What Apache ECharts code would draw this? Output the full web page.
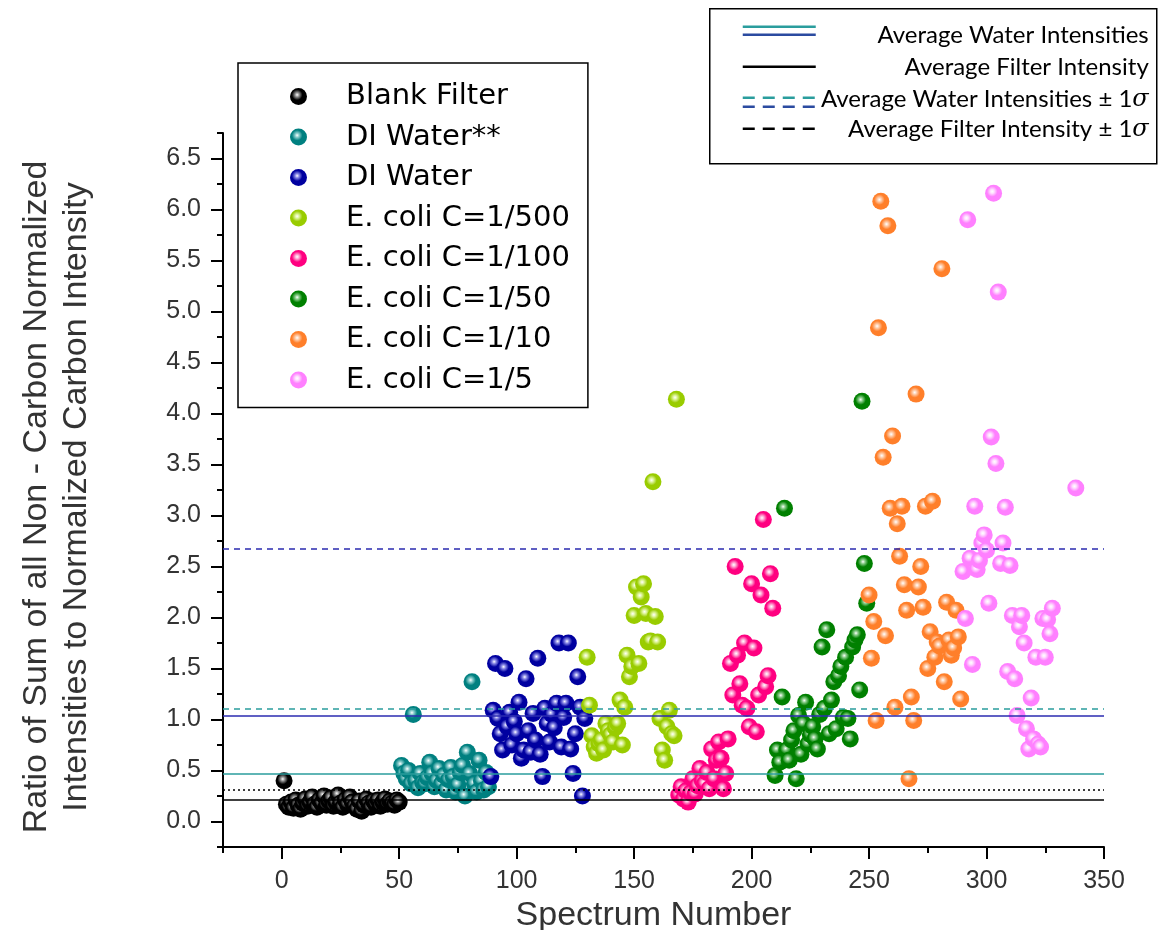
<!DOCTYPE html>
<html>
<head>
<meta charset="utf-8">
<script src="https://cdn.jsdelivr.net/npm/echarts@6/dist/echarts.min.js"></script>
<style>
  html, body { margin: 0; padding: 0; background: #fff; }
  #chart { width: 1158px; height: 930px; }
</style>
</head>
<body>
<div id="chart"></div>
<script>
// Series names (legend order)
const seriesNames = [
  'Blank Filter', 'DI Water**', 'DI Water', 'E. coli C=1/500',
  'E. coli C=1/100', 'E. coli C=1/50', 'E. coli C=1/10', 'E. coli C=1/5'
];

// [spectrum number, ratio]
const blankFilter = [[1,0.40],[2,0.17],[3,0.14],[4,0.19],[5,0.13],[6,0.21],[7,0.16],[8,0.12],[9,0.18],[10,0.22],
  [11,0.15],[12,0.19],[13,0.24],[14,0.17],[15,0.14],[16,0.21],[17,0.18],[18,0.25],[19,0.16],[20,0.20],
  [21,0.23],[22,0.15],[23,0.19],[24,0.26],[25,0.18],[26,0.14],[27,0.21],[28,0.17],[29,0.24],[30,0.19],
  [31,0.15],[32,0.12],[33,0.20],[34,0.10],[35,0.16],[36,0.22],[37,0.18],[38,0.14],[39,0.20],[40,0.17],
  [41,0.21],[42,0.15],[43,0.19],[44,0.22],[45,0.17],[46,0.20],[47,0.18],[48,0.16],[49,0.21],[50,0.19]];

const diWaterStar = [[51,0.55],[52,0.47],[53,0.42],[54,0.50],[55,0.37],[56,1.05],[57,0.40],[58,0.33],[59,0.47],[60,0.38],
  [61,0.37],[62,0.43],[63,0.58],[64,0.47],[65,0.34],[66,0.40],[67,0.52],[68,0.37],[69,0.45],[70,0.31],
  [71,0.41],[72,0.53],[73,0.44],[74,0.29],[75,0.36],[76,0.48],[77,0.55],[78,0.25],[79,0.68],[80,0.47],
  [81,1.37],[82,0.37],[83,0.29],[84,0.60],[85,0.40],[86,0.31],[87,0.48],[88,0.34]];

const diWater = [[89,0.44],[90,1.09],[91,1.55],[92,1.01],[93,0.86],[94,0.70],[95,1.50],[96,0.93],[97,1.07],[98,0.75],
  [99,0.98],[100,0.86],[101,1.17],[102,0.62],[103,0.70],[104,1.40],[105,0.89],[106,0.68],[107,1.06],[108,0.80],
  [109,1.60],[110,0.66],[111,0.44],[112,1.11],[113,0.96],[114,0.78],[115,1.05],[116,0.92],[117,1.16],[118,1.75],
  [119,0.73],[120,1.02],[121,1.16],[122,1.75],[123,0.71],[124,0.47],[125,0.86],[126,1.42],[127,1.12],[128,0.25],[129,1.01]];

const ecoli500 = [[130,1.61],[131,1.14],[132,0.84],[133,0.73],[134,0.67],[135,0.76],[136,0.80],[137,0.70],[138,0.96],[139,0.89],
  [140,0.85],[141,0.78],[142,0.92],[143,0.96],[144,1.19],[145,0.75],[146,1.12],[147,1.63],[148,1.42],[149,1.52],
  [150,2.02],[151,2.30],[152,1.55],[153,2.20],[154,2.33],[155,2.04],[156,1.76],[157,1.77],[158,3.33],[159,2.01],
  [160,1.76],[161,1.01],[162,0.70],[163,0.60],[164,0.93],[165,1.09],[166,0.86],[167,0.84],[168,4.14]];

const ecoli100 = [[169,0.26],[170,0.34],[171,0.22],[172,0.30],[173,0.19],[174,0.28],[175,0.42],[176,0.27],[177,0.35],[178,0.52],
  [179,0.40],[180,0.37],[181,0.48],[182,0.32],[183,0.71],[184,0.42],[185,0.60],[186,0.78],[187,0.62],[188,0.32],
  [189,0.47],[190,0.81],[191,1.55],[192,1.24],[193,2.50],[194,1.63],[195,1.35],[196,1.14],[197,1.75],[198,1.11],
  [199,0.93],[200,2.33],[201,1.70],[202,0.88],[203,1.24],[204,2.22],[205,2.96],[206,1.32],[207,1.43],[208,2.43],[209,2.09]];

const ecoli50 = [[210,0.45],[211,0.70],[212,0.58],[213,1.22],[214,3.07],[215,0.70],[216,0.60],[217,0.80],[218,0.89],[219,0.42],
  [220,1.04],[221,0.66],[222,0.96],[223,1.17],[224,0.76],[225,0.85],[226,0.93],[227,0.81],[228,0.71],[229,1.05],
  [230,1.71],[231,1.11],[232,1.88],[233,0.86],[234,1.19],[235,1.37],[236,0.91],[237,1.43],[238,1.52],[239,1.02],
  [240,1.61],[241,1.01],[242,0.81],[243,1.71],[244,1.78],[245,1.83],[246,1.29],[247,4.12],[248,2.53],[249,2.14]];

const ecoli10 = [[250,2.22],[251,1.60],[252,1.96],[253,0.99],[254,4.84],[255,6.08],[256,3.57],[257,1.82],[258,5.84],[259,3.07],
  [260,3.78],[261,1.12],[262,2.92],[263,2.60],[264,3.09],[265,2.32],[266,2.07],[267,0.42],[268,1.22],[269,0.99],
  [270,4.19],[271,2.30],[272,2.50],[273,2.10],[274,3.09],[275,1.50],[276,1.86],[277,3.14],[278,1.61],[279,1.76],
  [280,1.72],[281,5.42],[282,1.37],[283,2.15],[284,1.78],[285,1.63],[286,1.70],[287,2.07],[288,1.81],[289,1.20]];

const ecoli5 = [[290,2.45],[291,1.99],[292,5.90],[293,2.58],[294,1.54],[295,3.09],[296,2.47],[297,2.56],[298,2.73],[299,2.81],
  [300,2.66],[301,2.14],[302,3.77],[303,6.16],[304,3.51],[305,5.19],[306,2.53],[307,2.73],[308,3.08],[309,1.47],
  [310,2.51],[311,2.02],[312,1.40],[313,1.04],[314,1.91],[315,2.02],[316,1.75],[317,0.91],[318,0.71],[319,1.21],
  [320,0.81],[321,1.61],[322,0.76],[323,0.73],[324,1.99],[325,1.61],[326,1.98],[327,1.84],[328,2.09],[338,3.27]];

// Reference levels
const waterAvgDIstar = 0.467;   // teal solid
const waterAvgDI = 1.04;        // blue solid
const waterSigmaDIstar = 1.115; // teal dashed
const waterSigmaDI = 2.67;      // blue dashed
const filterAvg = 0.213;        // black solid
const filterSigma = 0.314;      // black dotted

// Axis ticks
const xMajorTicks = [0, 50, 100, 150, 200, 250, 300, 350];
const xMinorTicks = [-25, 25, 75, 125, 175, 225, 275, 325];
const yMajorTicks = [0, 0.5, 1, 1.5, 2, 2.5, 3, 3.5, 4, 4.5, 5, 5.5, 6, 6.5];
const yMinorTicks = [-0.25, 0.25, 0.75, 1.25, 1.75, 2.25, 2.75, 3.25, 3.75, 4.25, 4.75, 5.25, 5.75, 6.25, 6.75];

const seriesData = [blankFilter, diWaterStar, diWater, ecoli500, ecoli100, ecoli50, ecoli10, ecoli5];
const seriesColors = ['#000000', '#008080', '#0000A0', '#99CC00', '#FF0080', '#008000', '#FF7F2A', '#FF80FF'];
const highlightColors = ['#9a9a9a', '#8fd0d0', '#8f8fe8', '#e0f5a0', '#ffb0d8', '#90d090', '#ffd0b0', '#ffe0ff'];

const FONT = '"Liberation Sans", Arial, sans-serif';
const LEGEND_FONT = '"DejaVu Sans", "Liberation Sans", sans-serif';
const NOTE_FONT = 'Lato, "Liberation Sans", sans-serif';

const ball = (base, hi) => ({
  type: 'radial', x: 0.42, y: 0.4, r: 0.62,
  colorStops: [
    { offset: 0, color: '#ffffff' },
    { offset: 0.18, color: hi },
    { offset: 0.5, color: base },
    { offset: 1, color: base }
  ]
});

const chart = echarts.init(document.getElementById('chart'), null, { renderer: 'canvas' });

const axisLineStyle = { color: '#000', width: 2 };

const scatterSeries = seriesNames.map((name, i) => ({
  name: name,
  type: 'scatter',
  data: seriesData[i],
  symbol: 'circle',
  symbolSize: 17,
  z: 3,
  itemStyle: { color: ball(seriesColors[i], highlightColors[i]), opacity: 1 }
}));

const refLine = (v, color, type, width) => ({
  yAxis: v,
  lineStyle: { color: color, type: type, width: width }
});

const sigmaRich = {
  a: { fontSize: 24, fontFamily: NOTE_FONT, color: '#000' },
  s: { fontSize: 24, fontFamily: '"DejaVu Serif", serif', fontStyle: 'italic', color: '#000' }
};

const option = {
  animation: false,
  backgroundColor: '#fff',
  grid: { left: 223, right: 54, top: 133, bottom: 83, containLabel: false, outerBoundsMode: 'none' },
  xAxis: [{
    type: 'value', min: -25, max: 350, position: 'bottom',
    axisLine: { show: true, onZero: false, lineStyle: axisLineStyle },
    axisTick: { show: true, customValues: xMajorTicks, length: 12, lineStyle: axisLineStyle },
    axisLabel: { customValues: xMajorTicks, fontSize: 25, color: '#333', margin: 22, fontFamily: FONT },
    splitLine: { show: false },
    name: 'Spectrum Number', nameLocation: 'middle', nameGap: 46,
    nameTextStyle: { fontSize: 34, color: '#333', fontFamily: FONT, padding: [0, 20, 0, 0] }
  }, {
    type: 'value', min: -25, max: 350, position: 'bottom',
    axisLine: { show: false, onZero: false },
    axisTick: { show: true, customValues: xMinorTicks, length: 6, lineStyle: axisLineStyle },
    axisLabel: { show: false },
    splitLine: { show: false }
  }],
  yAxis: [{
    type: 'value', min: -0.25, max: 6.75, position: 'left',
    axisLine: { show: true, onZero: false, lineStyle: axisLineStyle },
    axisTick: { show: true, customValues: yMajorTicks, length: 12, lineStyle: axisLineStyle },
    axisLabel: { customValues: yMajorTicks, fontSize: 25, color: '#333', margin: 22, fontFamily: FONT,
      formatter: v => Number(v).toFixed(1) },
    splitLine: { show: false },
    name: 'Ratio of Sum of all Non - Carbon Normalized\nIntensities to Normalized Carbon Intensity',
    nameLocation: 'middle', nameGap: 126, nameRotate: 90,
    nameTextStyle: { fontSize: 34, lineHeight: 40, color: '#333', fontFamily: FONT, align: 'center',
      padding: [0, 14, 0, 0] }
  }, {
    type: 'value', min: -0.25, max: 6.75, position: 'left',
    axisLine: { show: false, onZero: false },
    axisTick: { show: true, customValues: yMinorTicks, length: 6, lineStyle: axisLineStyle },
    axisLabel: { show: false },
    splitLine: { show: false }
  }],
  legend: {
    data: seriesNames,
    orient: 'vertical',
    left: 238, top: 63,
    padding: [19, 18, 13, 52],
    itemGap: 11.5,
    itemWidth: 17, itemHeight: 17,
    icon: 'circle',
    borderColor: '#000', borderWidth: 1.5,
    backgroundColor: '#fff',
    textStyle: { fontSize: 29, lineHeight: 29, color: '#000', fontFamily: LEGEND_FONT, padding: [0, 0, 0, 34] }
  },
  series: [{
    name: 'levels',
    type: 'line',
    data: [],
    z: 1,
    silent: true,
    markLine: {
      silent: true,
      symbol: ['none', 'none'],
      label: { show: false },
      animation: false,
      data: [
        refLine(filterAvg, '#000', 'solid', 1.5),
        refLine(filterSigma, '#000', [2, 3], 1.5),
        refLine(waterAvgDIstar, '#2a9d9d', 'solid', 1.5),
        refLine(waterSigmaDIstar, '#2a9d9d', [6, 5], 1.5),
        refLine(waterAvgDI, '#2b2bb0', 'solid', 1.5),
        refLine(waterSigmaDI, '#2b2bb0', [6, 5], 1.5)
      ]
    }
  }].concat(scatterSeries),
  graphic: [{
    type: 'group',
    left: 709, top: 8,
    children: [
      { type: 'rect', shape: { x: 0, y: 0, width: 447, height: 155 },
        style: { fill: '#fff', stroke: '#000', lineWidth: 1.5 } },
      { type: 'line', shape: { x1: 33, y1: 18, x2: 106, y2: 18 }, style: { stroke: '#2a9d9d', lineWidth: 2.5 } },
      { type: 'line', shape: { x1: 33, y1: 26, x2: 106, y2: 26 }, style: { stroke: '#2b4ba0', lineWidth: 2.5 } },
      { type: 'line', shape: { x1: 33, y1: 58, x2: 106, y2: 58 }, style: { stroke: '#000', lineWidth: 2.5 } },
      { type: 'line', shape: { x1: 33, y1: 89, x2: 106, y2: 89 }, style: { stroke: '#2a9d9d', lineWidth: 2.5, lineDash: [12, 8] } },
      { type: 'line', shape: { x1: 33, y1: 98, x2: 106, y2: 98 }, style: { stroke: '#2b4ba0', lineWidth: 2.5, lineDash: [12, 8] } },
      { type: 'line', shape: { x1: 33, y1: 120, x2: 106, y2: 120 }, style: { stroke: '#000', lineWidth: 2.5, lineDash: [12, 8] } },
      { type: 'text', x: 439, y: 27, style: { text: 'Average Water Intensities', align: 'right', verticalAlign: 'middle',
        font: '24px ' + NOTE_FONT, fill: '#000' } },
      { type: 'text', x: 439, y: 59, style: { text: 'Average Filter Intensity', align: 'right', verticalAlign: 'middle',
        font: '24px ' + NOTE_FONT, fill: '#000' } },
      { type: 'text', x: 439, y: 91, style: { text: '{a|Average Water Intensities ± 1}{s|σ}', align: 'right', verticalAlign: 'middle',
        rich: sigmaRich } },
      { type: 'text', x: 439, y: 121, style: { text: '{a|Average Filter Intensity ± 1}{s|σ}', align: 'right', verticalAlign: 'middle',
        rich: sigmaRich } }
    ]
  }]
};

chart.setOption(option);
</script>
</body>
</html>
